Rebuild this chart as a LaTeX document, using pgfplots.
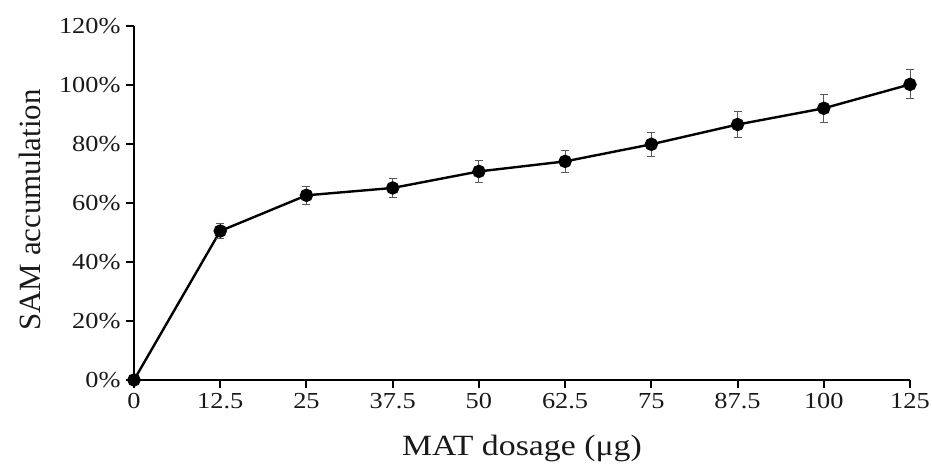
\documentclass[border=0pt]{standalone}
\usepackage{pgfplots}
\pgfplotsset{compat=1.18}
\usepackage{fontspec}
\setmainfont{Liberation Serif}
\newfontfamily\widefont[FakeStretch=1.15]{Liberation Serif}
\begin{document}
\begin{tikzpicture}
\begin{axis}[
  at={(0,0)}, anchor=south west,
  scale only axis, width=776bp, height=354bp,
  xmin=0, xmax=9, ymin=0, ymax=120,
  axis x line=bottom, axis y line=left,
  axis line style={-, line width=2bp, black},
  xtick={0,...,9},
  xticklabels={0,12.5,25,37.5,50,62.5,75,87.5,100,125},
  ytick={0,20,...,120},
  yticklabel={\pgfmathprintnumber{\tick}\%},
  /pgf/number format/assume math mode=true,
  tick align=outside, major tick length=8bp,
  tick style={line width=2bp, black},
  ticklabel style={font=\widefont\fontsize{23}{26}\selectfont, text=black!90},
  xticklabel style={yshift=-2bp},
  yticklabel style={xshift=-2bp},
  xlabel={MAT dosage (μg)},
  ylabel={SAM accumulation},
  xlabel style={font=\widefont\fontsize{29.5}{34}\selectfont, text=black!90, yshift=-19bp},
  ylabel style={font=\fontsize{31}{34}\selectfont, text=black!90, yshift=11bp, xshift=-7bp},
  clip=false,
]
\addplot[black, line width=2.4bp, mark=*, mark size=5.5bp,
  error bars/.cd, y dir=both, y explicit,
  error bar style={line width=1bp, black!65, solid},
  error mark options={rotate=90, mark size=4bp, line width=1bp, black!65}]
coordinates {
(0,0) +- (0,0)
(1,50.5) +- (0,2.5)
(2,62.6) +- (0,3.1)
(3,65.1) +- (0,3.3)
(4,70.7) +- (0,3.7)
(5,74.1) +- (0,3.6)
(6,79.9) +- (0,4.0)
(7,86.6) +- (0,4.4)
(8,92.1) +- (0,4.7)
(9,100.2) +- (0,4.9)
};
\end{axis}
\pgfresetboundingbox
\path (-134bp,-86bp) rectangle (798bp,380bp);
\end{tikzpicture}
\end{document}
